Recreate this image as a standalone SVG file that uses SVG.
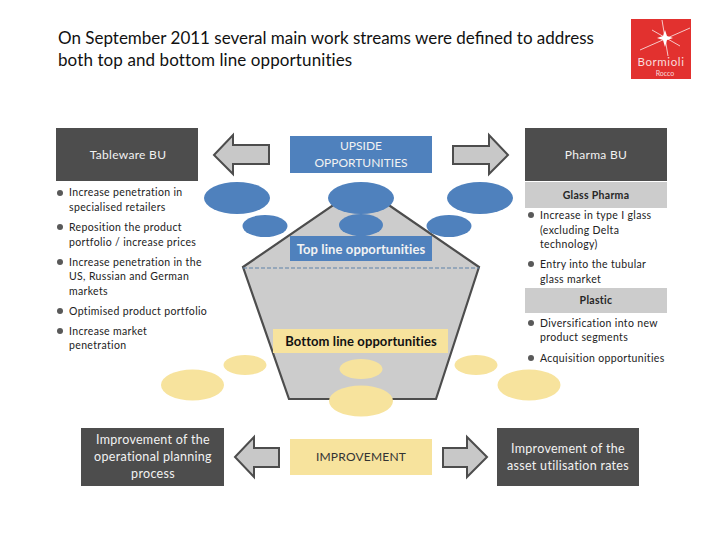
<svg xmlns="http://www.w3.org/2000/svg" width="720" height="540" viewBox="0 0 720 540">
<style>
text{font-family:Lato,"Liberation Sans",sans-serif;fill:#262626}
.title{font-size:17px;fill:#111}
.b{font-size:10.5px;letter-spacing:.35px;fill:#222}
.dark{fill:#4d4d4d}
.blue{fill:#4f81bd}
.yellow{fill:#f7e39d}
.band{fill:#cccccc}
.w{font-size:12.500px;fill:#f2f2f2;text-anchor:middle;letter-spacing:.3px}
.k{font-size:12px;fill:#333;text-anchor:middle;letter-spacing:.2px}
.h{font-size:13px;font-weight:700;text-anchor:middle;letter-spacing:.1px}
.s{font-size:10.5px;font-weight:700;text-anchor:middle;letter-spacing:.3px}
.arrow{fill:#c8c8c8;stroke:#4d4d4d;stroke-width:2}
.dot{fill:#595959}
</style>
<rect width="720" height="540" fill="#fff"/>
<g id="title"><text class="title" x="58" y="44">On September 2011 several main work streams were defined to address</text><text class="title" x="58" y="66" letter-spacing=".1">both top and bottom line opportunities</text></g>
<g id="logo"><rect x="631" y="19" width="60" height="60" fill="#e2312f"/><path d="M640 50L690 28M662 20L668 56M652 30L680 46" stroke="#f6c9c8" stroke-width="1" fill="none"/><path d="M665 30L667 36L673 38L667 40L665 47L663 40L657 38L663 36Z" fill="#fff"/><text x="661" y="66" font-size="11.500" letter-spacing=".6" text-anchor="middle" style="fill:#f9dcdc">Bormioli</text><text x="665" y="76" font-size="7" text-anchor="middle" style="fill:#f9dcdc">Rocco</text></g>
<g id="funnel"><path d="M361 186L479 267L436 399H289L243 267Z" fill="#cccccc" stroke="#4d4d4d" stroke-width="2.2" stroke-linejoin="miter"/></g>
<g id="connectors">
<path class="arrow" d="M214 155L233 135V145H269V164H233V174Z"/>
<path class="arrow" d="M508 155L489 135V146H453V164H489V174Z"/>
<path class="arrow" d="M235 457L254 437V448H279V467H254V477Z"/>
<path class="arrow" d="M487 457L467 437V448H443V467H467V477Z"/>
<path d="M243 268H479" stroke="#5f82a8" stroke-width="1" stroke-dasharray="4 2" fill="none"/>
</g>
<g id="blue-ellipses">
<ellipse class="blue" cx="237" cy="198" rx="33" ry="16"/><ellipse class="blue" cx="265" cy="226" rx="22.5" ry="11"/>
<ellipse class="blue" cx="361" cy="198" rx="33" ry="16"/><ellipse class="blue" cx="361" cy="225" rx="22" ry="11"/>
<ellipse class="blue" cx="480" cy="198" rx="33" ry="16"/><ellipse class="blue" cx="449" cy="226" rx="22.5" ry="11"/>
</g>
<g id="yellow-ellipses">
<ellipse class="yellow" cx="245" cy="365" rx="21.5" ry="10"/><ellipse class="yellow" cx="192.500" cy="385" rx="31.500" ry="15.500"/>
<ellipse class="yellow" cx="361" cy="369" rx="21.500" ry="10"/><ellipse class="yellow" cx="361" cy="401" rx="32" ry="15.500"/>
<ellipse class="yellow" cx="476" cy="365" rx="21.500" ry="10"/><ellipse class="yellow" cx="529" cy="385" rx="31.500" ry="15.500"/>
</g>
<g id="tableware"><rect class="dark" x="56" y="128" width="142" height="53"/><text class="w" x="128" y="159" style="font-size:12px">Tableware BU</text></g>
<g id="upside"><rect class="blue" x="290" y="136" width="142" height="37"/><text class="w" x="361" y="150" style="font-size:12px;letter-spacing:0">UPSIDE</text><text class="w" x="361" y="167" style="font-size:12px;letter-spacing:0">OPPORTUNITIES</text></g>
<g id="pharma"><rect class="dark" x="525" y="128" width="142" height="53"/><text class="w" x="596" y="159" style="font-size:12px">Pharma BU</text></g>
<g id="glass-pharma"><rect class="band" x="525" y="182" width="142" height="26"/><text class="s" x="596" y="199">Glass Pharma</text></g>
<g id="plastic"><rect class="band" x="525" y="288" width="142" height="25"/><text class="s" x="596" y="304">Plastic</text></g>
<g id="top-line"><rect class="blue" x="290" y="236" width="142" height="25"/><text class="h" x="361" y="254" style="fill:#f2f2f2">Top line opportunities</text></g>
<g id="bottom-line"><rect class="yellow" x="273" y="329" width="175" height="24"/><text class="h" x="361" y="346" style="fill:#111">Bottom line opportunities</text></g>
<g id="improvement"><rect class="yellow" x="290" y="439" width="142" height="36"/><text class="k" x="361" y="461">IMPROVEMENT</text></g>
<g id="improve-left"><rect class="dark" x="81" y="428" width="143" height="58"/><text class="w" x="153" y="444">Improvement of the</text><text class="w" x="153" y="461">operational planning</text><text class="w" x="153" y="478">process</text></g>
<g id="improve-right"><rect class="dark" x="497" y="428" width="142" height="58"/><text class="w" x="568" y="453">Improvement of the</text><text class="w" x="568" y="470">asset utilisation rates</text></g>
<g id="left-list">
<circle class="dot" cx="60" cy="193" r="3"/><circle class="dot" cx="60" cy="227" r="3"/><circle class="dot" cx="60" cy="262" r="3"/><circle class="dot" cx="60" cy="311" r="3"/><circle class="dot" cx="60" cy="331" r="3"/>
<text class="b" x="69" y="196">Increase penetration in</text><text class="b" x="69" y="211">specialised retailers</text>
<text class="b" x="69" y="231">Reposition the product</text><text class="b" x="69" y="246">portfolio / increase prices</text>
<text class="b" x="69" y="266">Increase penetration in the</text><text class="b" x="69" y="280">US, Russian and German</text><text class="b" x="69" y="295">markets</text>
<text class="b" x="69" y="315">Optimised product portfolio</text>
<text class="b" x="69" y="335">Increase market</text><text class="b" x="69" y="349">penetration</text>
</g>
<g id="right-list">
<circle class="dot" cx="531" cy="215" r="3"/><circle class="dot" cx="531" cy="264" r="3"/><circle class="dot" cx="531" cy="323" r="3"/><circle class="dot" cx="531" cy="358" r="3"/>
<text class="b" x="540" y="219">Increase in type I glass</text><text class="b" x="540" y="234">(excluding Delta</text><text class="b" x="540" y="248">technology)</text>
<text class="b" x="540" y="268">Entry into the tubular</text><text class="b" x="540" y="283">glass market</text>
<text class="b" x="540" y="327">Diversification into new</text><text class="b" x="540" y="341">product segments</text>
<text class="b" x="540" y="362">Acquisition opportunities</text>
</g>
</svg>
